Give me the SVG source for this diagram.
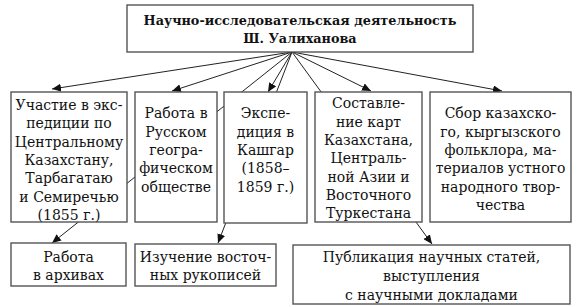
<svg xmlns="http://www.w3.org/2000/svg" width="584" height="307" viewBox="0 0 584 307">
<style>
.box{fill:#fff;stroke:#555;stroke-width:1.4}
.t{font-family:"DejaVu Serif","Liberation Serif",serif;font-size:14px;fill:#111;text-anchor:middle}
.b{font-weight:bold;font-size:12.8px}
.c{stroke:#222;stroke-width:1;fill:none;marker-end:url(#ah)}
</style>
<defs>
<marker id="ah" markerUnits="userSpaceOnUse" markerWidth="10" markerHeight="8" refX="9" refY="4" orient="auto">
<path d="M0,0 L9,4 L0,8 Z" fill="#111"/>
</marker>
</defs>
<rect width="584" height="307" fill="#fff"/>
<g id="connectors">
<line class="c" x1="292" y1="52" x2="52" y2="89"/>
<line class="c" x1="292" y1="52" x2="172" y2="91"/>
<line class="c" x1="292" y1="52" x2="268" y2="92"/>
<line class="c" x1="292" y1="52" x2="371" y2="91"/>
<line class="c" x1="292" y1="52" x2="502" y2="91"/>
<line class="c" x1="292" y1="52" x2="52" y2="243"/>
<line class="c" x1="292" y1="52" x2="218" y2="243"/>
<line class="c" x1="292" y1="52" x2="432" y2="244"/>
</g>
<g id="top">
<rect class="box" x="127" y="5" width="346" height="47"/>
<text class="t b" x="300" y="25">Научно-исследовательская деятельность</text>
<text class="t b" x="300" y="43">Ш. Уалиханова</text>
</g>
<g id="n1">
<rect class="box" x="11" y="92" width="116" height="130"/>
<text class="t" x="69" y="110">Участие в экс-</text>
<text class="t" x="69" y="128">педиции по</text>
<text class="t" x="69" y="147">Центральному</text>
<text class="t" x="69" y="165">Казахстану,</text>
<text class="t" x="69" y="183">Тарбагатаю</text>
<text class="t" x="69" y="202">и Семиречью</text>
<text class="t" x="69" y="220">(1855 г.)</text>
</g>
<g id="n2">
<rect class="box" x="135" y="92" width="82" height="130"/>
<text class="t" x="176" y="118">Работа в</text>
<text class="t" x="176" y="137">Русском</text>
<text class="t" x="176" y="155">геогра-</text>
<text class="t" x="176" y="173">фическом</text>
<text class="t" x="176" y="192">обществе</text>
</g>
<g id="n3">
<rect class="box" x="224" y="92" width="83" height="131"/>
<text class="t" x="265.5" y="118">Экспе-</text>
<text class="t" x="265.5" y="137">диция в</text>
<text class="t" x="265.5" y="155">Кашгар</text>
<text class="t" x="265.5" y="173">(1858–</text>
<text class="t" x="265.5" y="192">1859 г.)</text>
</g>
<g id="n4">
<rect class="box" x="315" y="92" width="107" height="130"/>
<text class="t" x="368.5" y="108">Составле-</text>
<text class="t" x="368.5" y="127">ние карт</text>
<text class="t" x="368.5" y="145">Казахстана,</text>
<text class="t" x="368.5" y="163">Централь-</text>
<text class="t" x="368.5" y="182">ной Азии и</text>
<text class="t" x="368.5" y="200">Восточного</text>
<text class="t" x="368.5" y="218">Туркестана</text>
</g>
<g id="n5">
<rect class="box" x="430" y="92" width="141" height="130"/>
<text class="t" x="500.5" y="118">Сбор казахско-</text>
<text class="t" x="500.5" y="137">го, кыргызского</text>
<text class="t" x="500.5" y="155">фольклора, ма-</text>
<text class="t" x="500.5" y="173">териалов устного</text>
<text class="t" x="500.5" y="192">народного твор-</text>
<text class="t" x="500.5" y="210">чества</text>
</g>
<g id="a1">
<rect class="box" x="11" y="243" width="115" height="43"/>
<text class="t" x="68.5" y="262">Работа</text>
<text class="t" x="68.5" y="280">в архивах</text>
</g>
<g id="a2">
<rect class="box" x="135" y="244" width="141" height="42"/>
<text class="t" x="205.5" y="262">Изучение восточ-</text>
<text class="t" x="205.5" y="280">ных рукописей</text>
</g>
<g id="a3">
<rect class="box" x="293" y="245" width="277" height="59"/>
<text class="t" x="431.5" y="262">Публикация научных статей,</text>
<text class="t" x="431.5" y="281">выступления</text>
<text class="t" x="431.5" y="300">с научными докладами</text>
</g>
</svg>
